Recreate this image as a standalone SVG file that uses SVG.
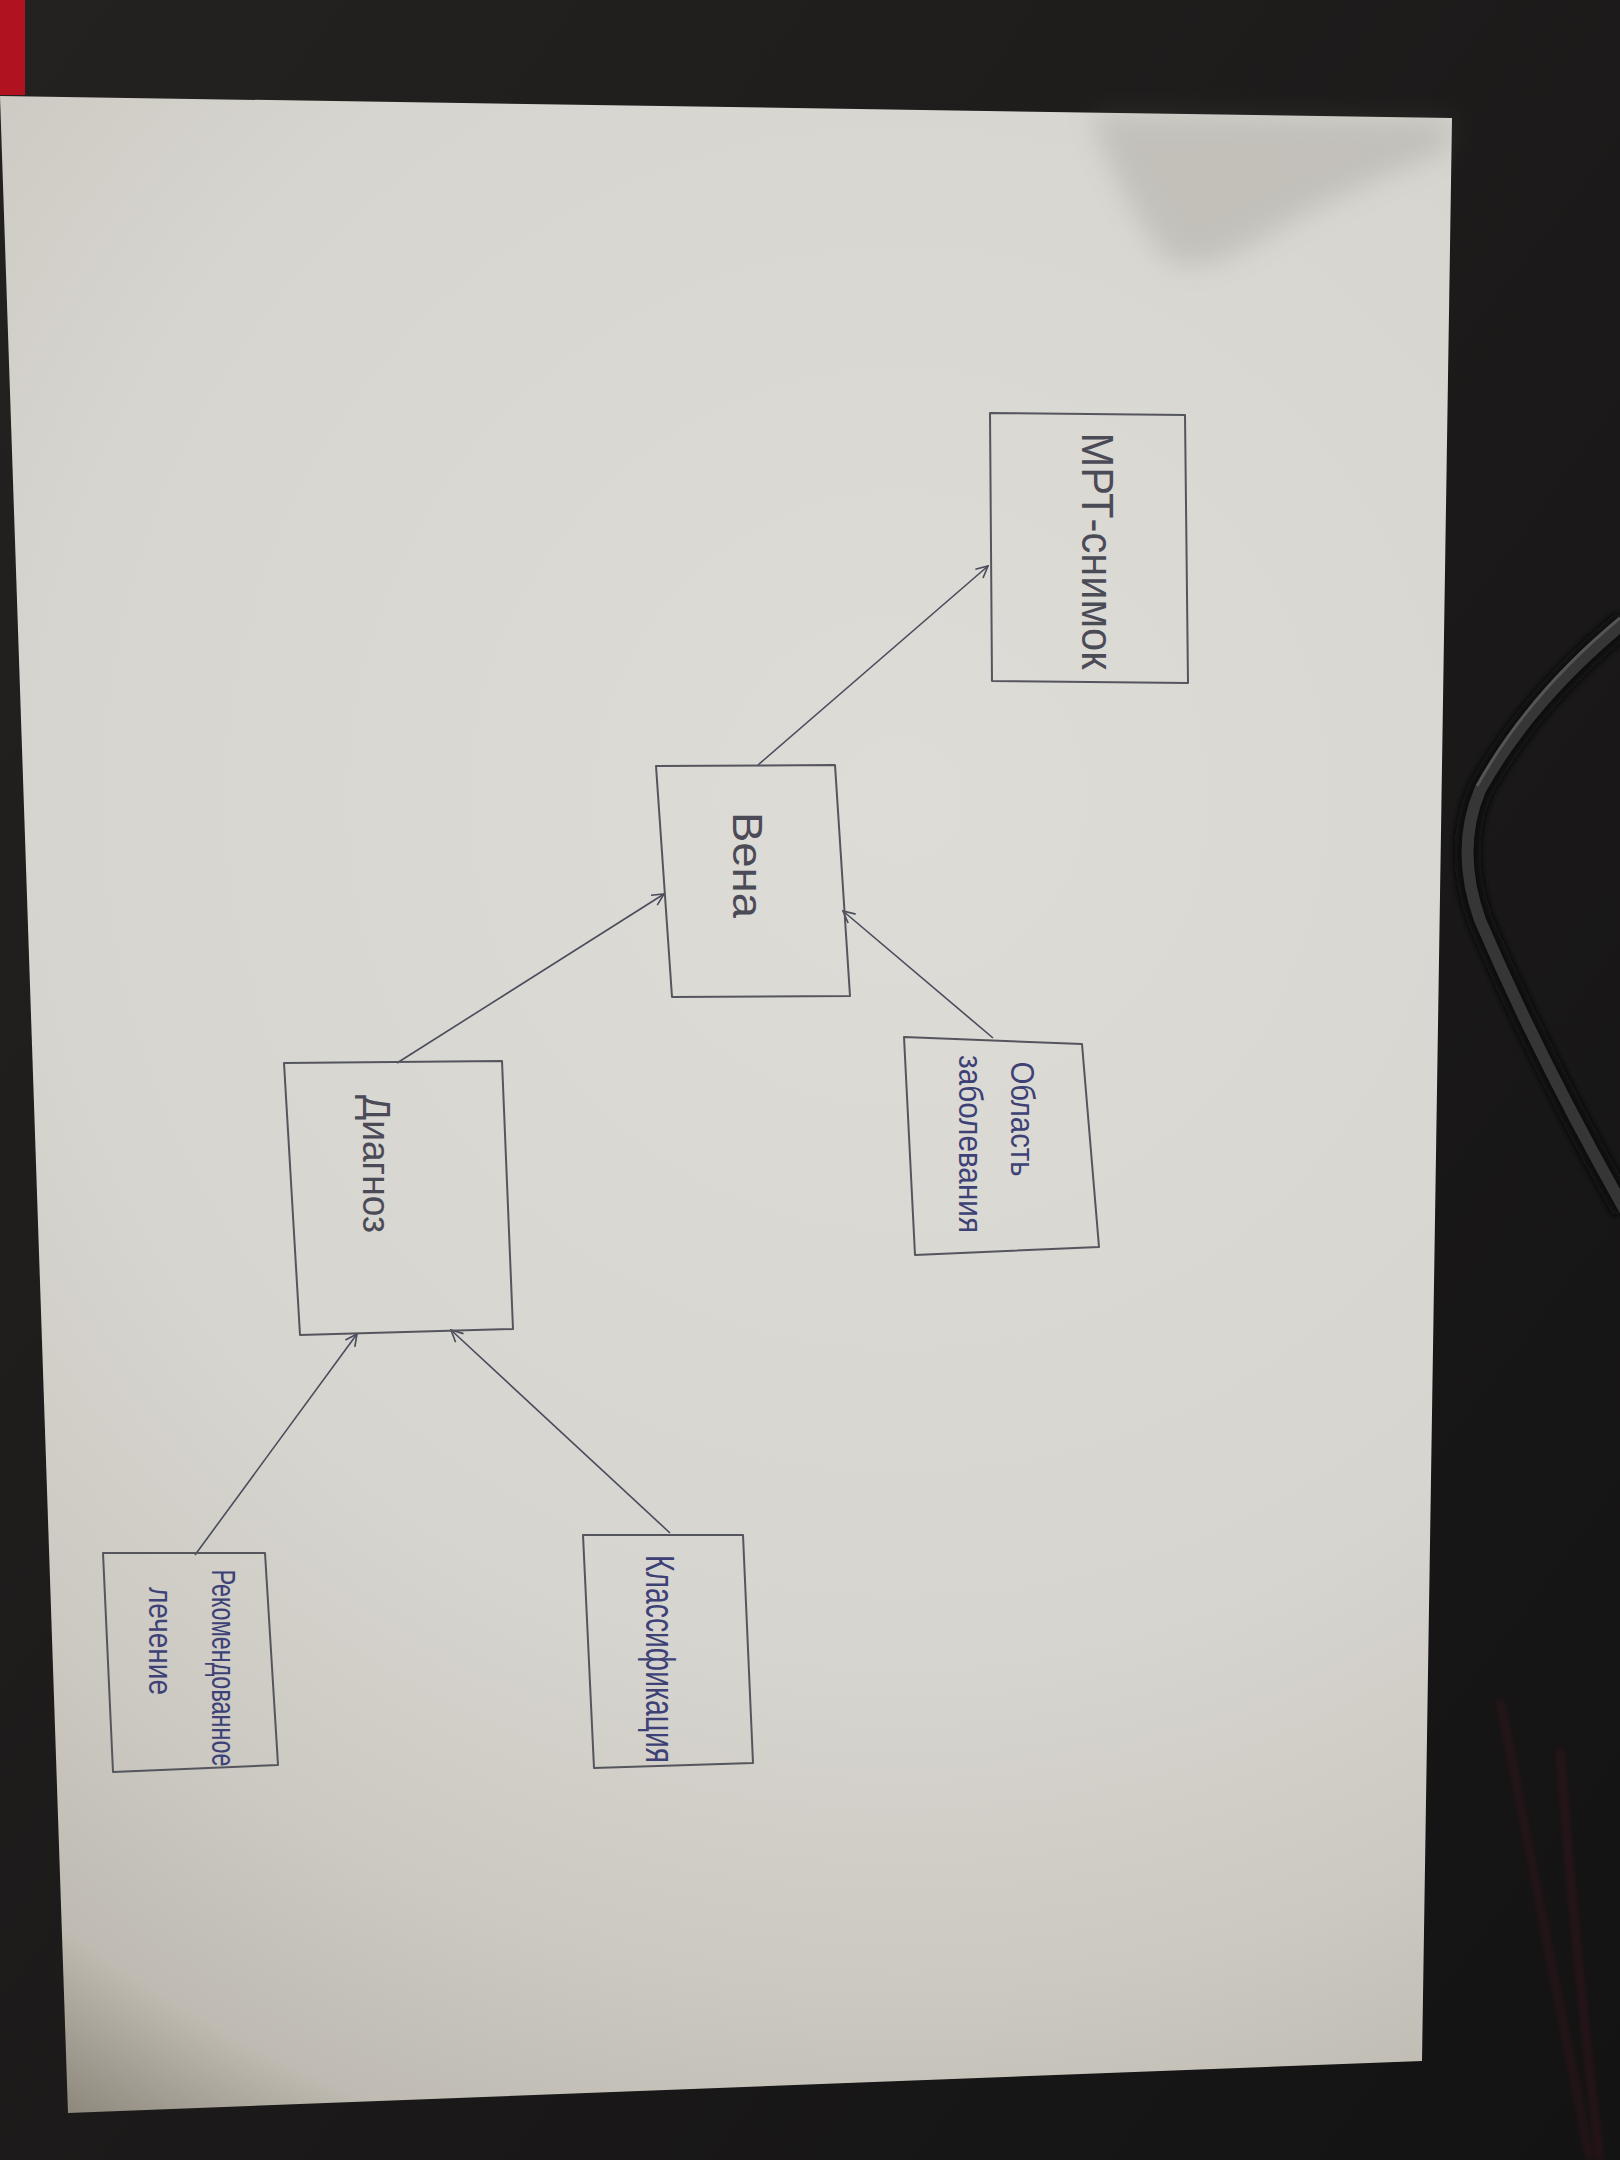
<svg xmlns="http://www.w3.org/2000/svg" width="1620" height="2160" viewBox="0 0 1620 2160">
  <defs>
    <radialGradient id="paperGrad" gradientUnits="userSpaceOnUse" cx="900" cy="800" r="1560">
      <stop offset="0" stop-color="#dedcd6"/>
      <stop offset="0.55" stop-color="#d7d5cf"/>
      <stop offset="0.76" stop-color="#ccc9c2"/>
      <stop offset="0.9" stop-color="#bfbbb2"/>
      <stop offset="1" stop-color="#8c867a"/>
    </radialGradient>
    <linearGradient id="bgGrad" x1="0" y1="0" x2="1" y2="1">
      <stop offset="0" stop-color="#242221"/>
      <stop offset="1" stop-color="#141313"/>
    </linearGradient>
    <filter id="blur" x="-20%" y="-20%" width="140%" height="140%">
      <feGaussianBlur stdDeviation="14"/>
    </filter>
    <filter id="blur2" x="-20%" y="-20%" width="140%" height="140%">
      <feGaussianBlur stdDeviation="3"/>
    </filter>
    <marker id="arrow" viewBox="0 0 12 12" refX="11" refY="6" markerWidth="14" markerHeight="14" markerUnits="userSpaceOnUse" orient="auto">
      <path d="M1,1 L11,6 L1,11" fill="none" stroke="#4a4c5c" stroke-width="1.4"/>
    </marker>
    <style>
      .box { fill: none; stroke: #55555e; stroke-width: 2; stroke-linejoin: round; }
      .conn { fill: none; stroke: #4a4c5c; stroke-width: 1.6; marker-end: url(#arrow); }
      .lbl { font-family: "Liberation Sans", "DejaVu Sans", sans-serif; text-anchor: middle; }
      .gray { fill: #4b4b58; }
      .blue { fill: #3d4176; }
    </style>
  </defs>

  <!-- background scene -->
  <rect x="0" y="0" width="1620" height="2160" fill="url(#bgGrad)"/>
  <rect x="0" y="0" width="25" height="95" fill="#b0121f"/>
  <g opacity="0.3" filter="url(#blur2)">
    <path d="M1500,1700 Q1540,1900 1590,2160" fill="none" stroke="#7a1a2a" stroke-width="4"/>
    <path d="M1560,1750 Q1575,1950 1600,2160" fill="none" stroke="#8a1a30" stroke-width="4"/>
  </g>
  <!-- cable -->
  <path d="M1625,622 Q1530,700 1480,790 Q1455,850 1480,920 Q1540,1060 1625,1210" fill="none" stroke="#0c0c0c" stroke-width="26" filter="url(#blur2)"/>
  <path d="M1625,622 Q1530,700 1480,790 Q1455,850 1480,920 Q1540,1060 1625,1210" fill="none" stroke="#363636" stroke-width="12"/>
  <path d="M1620,618 Q1528,694 1477,786" fill="none" stroke="#555553" stroke-width="3"/>

  <!-- paper -->
  <polygon points="0,96 1452,118 1422,2061 68,2113" fill="url(#paperGrad)"/>
  <path d="M1090,112 L1452,118 L1451,150 Q1340,190 1260,240 Q1195,280 1165,258 Q1120,200 1090,112 Z" fill="#6d6a64" opacity="0.2" filter="url(#blur)"/>

  <!-- connectors -->
  <g id="connectors">
    <line class="conn" x1="758" y1="765" x2="988" y2="566"/>
    <line class="conn" x1="397" y1="1063" x2="664" y2="894"/>
    <line class="conn" x1="993" y1="1038" x2="843" y2="911"/>
    <line class="conn" x1="195" y1="1555" x2="357" y2="1334"/>
    <line class="conn" x1="670" y1="1533" x2="451" y2="1330"/>
  </g>

  <!-- nodes -->
  <g id="node-mrt">
    <polygon class="box" points="990,413 1185,415 1188,683 992,681"/>
    <text class="lbl gray" font-size="44" textLength="237" lengthAdjust="spacingAndGlyphs" transform="translate(1082,551) rotate(90)">МРТ-снимок</text>
  </g>
  <g id="node-vena">
    <polygon class="box" points="656,766 835,765 850,996 672,997"/>
    <text class="lbl gray" font-size="42" textLength="106" lengthAdjust="spacingAndGlyphs" transform="translate(733,865) rotate(90)">Вена</text>
  </g>
  <g id="node-oblast">
    <polygon class="box" points="904,1037 1082,1044 1099,1247 915,1255"/>
    <text class="lbl blue" font-size="34" textLength="115" lengthAdjust="spacingAndGlyphs" transform="translate(1011,1119) rotate(90)">Область</text>
    <text class="lbl blue" font-size="34" textLength="178" lengthAdjust="spacingAndGlyphs" transform="translate(959,1144) rotate(90)">заболевания</text>
  </g>
  <g id="node-diagnoz">
    <polygon class="box" points="284,1063 502,1061 513,1329 300,1335"/>
    <text class="lbl gray" font-size="38" textLength="138" lengthAdjust="spacingAndGlyphs" transform="translate(363,1164) rotate(90)">Диагноз</text>
  </g>
  <g id="node-rekom">
    <polygon class="box" points="103,1553 265,1553 278,1765 113,1772"/>
    <text class="lbl blue" font-size="34" textLength="197" lengthAdjust="spacingAndGlyphs" transform="translate(212,1668) rotate(90)">Рекомендованное</text>
    <text class="lbl blue" font-size="34" textLength="108" lengthAdjust="spacingAndGlyphs" transform="translate(149,1641) rotate(90)">лечение</text>
  </g>
  <g id="node-klass">
    <polygon class="box" points="583,1535 743,1535 753,1763 594,1768"/>
    <text class="lbl blue" font-size="40" textLength="208" lengthAdjust="spacingAndGlyphs" transform="translate(646,1659) rotate(90)">Классификация</text>
  </g>
</svg>
